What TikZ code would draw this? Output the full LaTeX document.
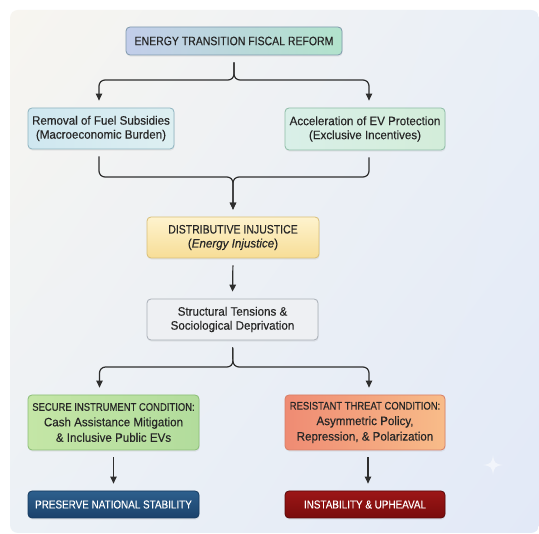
\documentclass[tikz,border=0pt]{standalone}
\usepackage{fontspec}
\setmainfont[FakeStretch=0.86,FakeBold=0.25]{Liberation Sans}
\newfontfamily\lcfont[FakeStretch=0.95,FakeBold=0.25]{Liberation Sans}
\usetikzlibrary{shadows,shadings,arrows.meta}
\definecolor{txt}{HTML}{262626}
\definecolor{conncol}{HTML}{2E2E2E}
\definecolor{topL}{HTML}{C2CDEA}
\definecolor{topR}{HTML}{B2E3CC}
\definecolor{topB}{HTML}{7E98AC}
\definecolor{lbL}{HTML}{CFE7F0}
\definecolor{lbR}{HTML}{DDEFF1}
\definecolor{lbB}{HTML}{8DB3BF}
\definecolor{rbL}{HTML}{D9EFE8}
\definecolor{rbR}{HTML}{D3EDD9}
\definecolor{rbB}{HTML}{8DBCA6}
\definecolor{ylT}{HTML}{FEF3CE}
\definecolor{ylB}{HTML}{F7DD96}
\definecolor{ylBd}{HTML}{D8BE78}
\definecolor{grF}{HTML}{EEF0F3}
\definecolor{grB}{HTML}{A9AFB7}
\definecolor{gnL}{HTML}{C4E6A6}
\definecolor{gnR}{HTML}{B2DC9C}
\definecolor{gnB}{HTML}{8BBD77}
\definecolor{orL}{HTML}{EF8B73}
\definecolor{orR}{HTML}{F8BC89}
\definecolor{orB}{HTML}{D67E66}
\definecolor{bluT}{HTML}{2D5F8D}
\definecolor{bluB}{HTML}{1B426B}
\definecolor{bluBd}{HTML}{163A5F}
\definecolor{redT}{HTML}{9C1616}
\definecolor{redB}{HTML}{790C0C}
\definecolor{redBd}{HTML}{580808}
\definecolor{bgUL}{HTML}{F7F5F0}
\definecolor{bgUR}{HTML}{E9EFF7}
\definecolor{bgLL}{HTML}{ECF1F6}
\definecolor{bgLR}{HTML}{E2E9F7}
\tikzset{
  box/.style={draw, rounded corners=4pt, line width=0.8pt, align=center,
    inner sep=0pt, text=txt, font=\fontsize{12.2}{14}\selectfont,
    drop shadow={opacity=0.12, shadow xshift=0.6pt, shadow yshift=-1.6pt}},
  lcbox/.style={box, font=\fontsize{12.2}{14}\lcfont},
  tallbox/.style={box, font=\fontsize{12.2}{15.5}\selectfont},
  darkbox/.style={box, text=white, font=\fontsize{11.5}{13}\selectfont},
  conn/.style={draw=conncol, line width=1.2pt, rounded corners=6pt,
    shorten <=7pt, shorten >=7pt},
  arr/.style={conn, -{Triangle[length=7pt,width=6.5pt]}}
}
\begin{document}
\begin{tikzpicture}[x=1pt,y=-1pt]
\useasboundingbox (0,0) rectangle (539,534);
\fill[white] (0,0) rectangle (539,534);
\shade[rounded corners=8pt, upper left=bgUL, upper right=bgUR,
  lower left=bgLL, lower right=bgLR]
  (10,10) rectangle (539,533);
% sparkle
\fill[white, opacity=0.55] (493,455) .. controls (494,463) and (495,464) .. (503,465)
  .. controls (495,466) and (494,467) .. (493,475)
  .. controls (492,467) and (491,466) .. (483,465)
  .. controls (491,464) and (492,463) .. (493,455) -- cycle;

\node[box, draw=topB, left color=topL, right color=topR, minimum width=216, minimum height=28]
  (top) at (234,41) {ENERGY TRANSITION FISCAL REFORM};
\node[lcbox, draw=lbB, left color=lbL, right color=lbR, minimum width=146, minimum height=41]
  (left) at (101,128.5) {Removal of Fuel Subsidies\\(Macroeconomic Burden)};
\node[lcbox, draw=rbB, left color=rbL, right color=rbR, minimum width=160, minimum height=42]
  (right) at (365,129) {Acceleration of EV Protection\\(Exclusive Incentives)};
\node[box, draw=ylBd, top color=ylT, bottom color=ylB, minimum width=172, minimum height=41]
  (dist) at (233,237.5) {DISTRIBUTIVE INJUSTICE\\{\lcfont(\textit{Energy Injustice})}};
\node[lcbox, draw=grB, fill=grF, minimum width=171, minimum height=41]
  (struct) at (232.5,319.5) {Structural Tensions \&\\Sociological Deprivation};
\node[tallbox, draw=gnB, left color=gnL, right color=gnR, minimum width=171, minimum height=55]
  (secure) at (113.5,422.5) {{\fontsize{11}{15.5}\selectfont SECURE INSTRUMENT CONDITION:}\\{\lcfont Cash Assistance Mitigation}\\{\lcfont\& Inclusive Public EVs}};
\node[tallbox, draw=orB, left color=orL, right color=orR, minimum width=160, minimum height=55]
  (resist) at (365,422.5) {{\fontsize{11}{15.5}\selectfont RESISTANT THREAT CONDITION:}\\{\lcfont Asymmetric Policy,}\\{\lcfont Repression, \& Polarization}};
\node[darkbox, draw=bluBd, top color=bluT, bottom color=bluB, minimum width=171, minimum height=27]
  (pres) at (113.5,504.5) {PRESERVE NATIONAL STABILITY};
\node[darkbox, draw=redBd, top color=redT, bottom color=redB, minimum width=160, minimum height=27]
  (inst) at (365,504.5) {INSTABILITY \& UPHEAVAL};

\coordinate (f1) at (234,80);
\coordinate (m1) at (233,177);
\coordinate (s1) at (233,367);

\draw[arr] (top.south) -- (f1) -| ([xshift=-2pt]left.north);
\draw[arr] (top.south) -- (f1) -| ([xshift=4pt]right.north);
\draw[arr] ([xshift=-2pt]left.south) |- (m1) -- (dist.north);
\draw[arr] ([xshift=4pt]right.south) |- (m1) -- (dist.north);
\draw[arr] (dist.south) -- (struct.north);
\draw[arr] (struct.south) -- (s1) -| ([xshift=-14pt]secure.north);
\draw[arr] (struct.south) -- (s1) -| ([xshift=4pt]resist.north);
\draw[arr] (secure.south) -- (pres.north);
\draw[arr] ([xshift=3pt]resist.south) -- ([xshift=3pt]inst.north);
\end{tikzpicture}
\end{document}
